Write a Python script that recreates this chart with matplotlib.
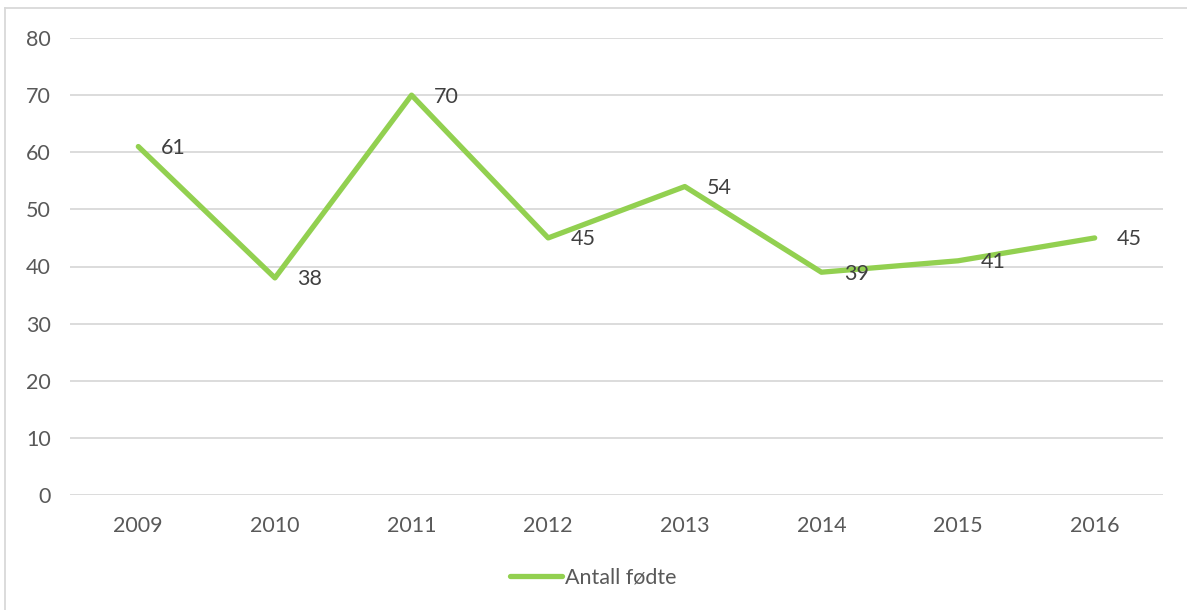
import matplotlib
matplotlib.use("Agg")
import matplotlib.pyplot as plt
from matplotlib.lines import Line2D

years = ["2009", "2010", "2011", "2012", "2013", "2014", "2015", "2016"]
values = [61, 38, 70, 45, 54, 39, 41, 45]
series_name = "Antall fødte"
yticks = [0, 10, 20, 30, 40, 50, 60, 70, 80]

W, H = 1187, 610
fig = plt.figure(figsize=(W / 100, H / 100), dpi=100)
plt.rcParams['font.family'] = ['Lato', 'DejaVu Sans']
txt = "#595959"
green = "#92D050"
fs = 15.5

ax = fig.add_axes([70 / W, 1 - 495 / H, (1163 - 70) / W, (495 - 38) / H])
x = list(range(len(years)))
ax.plot(x, values, color=green, lw=3.8, solid_capstyle='round', solid_joinstyle='round', zorder=3)
for xi, v in zip(x, values):
    ax.annotate(str(v), (xi, v), xytext=(16, -1), textcoords='offset points',
                ha='left', va='center', fontsize=fs, color="#404040", zorder=4)

ax.set_xlim(-0.5, len(years) - 0.5)
ax.set_ylim(0, 80)
ax.set_yticks(yticks)
ax.set_xticks(x)
ax.set_xticklabels(years)
ax.grid(axis='y', color="#d9d9d9", lw=1.3)
ax.set_axisbelow(True)
for s in ax.spines.values():
    s.set_visible(False)
ax.tick_params(axis='both', length=0, labelsize=fs, labelcolor=txt)
ax.tick_params(axis='y', pad=14)
ax.tick_params(axis='x', pad=15)

# legend
handle = Line2D([], [], color=green, lw=3.8, solid_capstyle='round')
fig.legend([handle], [series_name], loc='center', bbox_to_anchor=(0.5, 1 - 578 / H),
           frameon=False, fontsize=fs, labelcolor=txt, handlelength=2.4, handletextpad=0.15)

# chart border (top and left visible)
fig.add_artist(Line2D([5 / W, 1.0], [1 - 7.5 / H, 1 - 7.5 / H], color="#d9d9d9", lw=1.3, transform=fig.transFigure))
fig.add_artist(Line2D([5 / W, 5 / W], [0, 1 - 7.5 / H], color="#d9d9d9", lw=1.3, transform=fig.transFigure))

fig.savefig("out.png", dpi=100)
